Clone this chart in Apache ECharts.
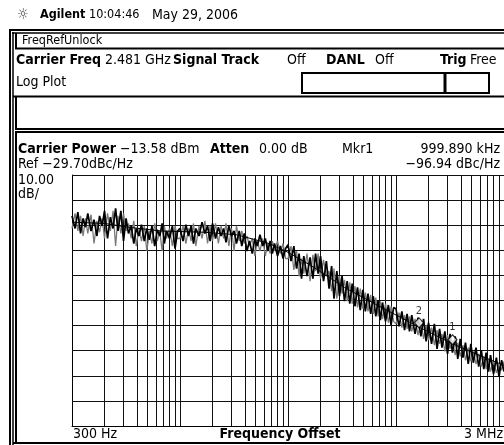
<!DOCTYPE html>
<html>
<head>
<meta charset="utf-8">
<script src="https://cdn.jsdelivr.net/npm/echarts@6/dist/echarts.min.js"></script>
<style>
  html, body { margin: 0; padding: 0; background: #fff; }
  #chart { width: 504px; height: 445px; }
</style>
</head>
<body>
<div id="chart"></div>
<script>
// Sweep settings
const startFreq = 300;        // Hz
const stopFreq = 3000000;     // Hz
const refLevel = -29.7;       // dBc/Hz at top graticule
const dbPerDiv = 10;
const divisions = 10;

// Offset frequencies of the measured trace points (Hz)
const traceFreqs = [
  300,320,340,360,380,400,420,450,480,510,540,570,600,640,680,720,760,800,850,900,950,
  1000,1060,1120,1180,1250,1320,1400,1480,1560,1650,1750,1850,1950,2050,2150,2250,2400,2550,2700,2850,
  3000,3200,3400,3600,3800,4000,4200,4500,4800,5100,5400,5700,6000,6400,6800,7200,7600,8000,8500,9000,9500,
  10000,10600,11200,11800,12500,13200,14000,14800,15600,16500,17500,18500,19500,20500,21500,22500,24000,25500,27000,28500,
  30000,32000,34000,36000,38000,40000,42000,45000,48000,51000,54000,57000,60000,64000,68000,72000,76000,80000,85000,90000,95000,
  100000,106000,112000,118000,125000,132000,140000,148000,156000,165000,175000,185000,195000,205000,215000,225000,240000,255000,270000,285000,
  300000,320000,340000,360000,380000,400000,420000,450000,480000,510000,540000,570000,600000,640000,680000,720000,760000,800000,850000,900000,950000,
  1000000,1060000,1120000,1180000,1250000,1320000,1400000,1480000,1560000,1650000,1750000,1850000,1950000,2050000,2150000,2250000,2400000,2550000,2700000,2850000,
  3000000
];

// Phase noise, trace 1 (dBc/Hz)
const traceMain = [
  -46,-51,-44.5,-53,-47,-50.5,-45,-52,-47.5,-54,-46,-50,-44,-55,-46.5,-51,-43,-52,-44,-56,-47,
  -53,-50,-57,-51,-54,-49.5,-56,-51,-55.5,-50,-58,-51.5,-54,-49,-57,-52,-55,-50,-59,-52,
  -51,-56,-49.5,-54,-50,-57,-51,-54,-48.5,-53,-50,-56,-49,-55,-50.5,-54,-51,-56.5,-50,-54,-52,
  -57,-52,-58,-53,-60,-56,-61,-55,-58,-53.5,-58,-55,-60,-56,-61,-57,-62,-58,-63,-59,
  -57.5,-64,-58,-67,-61,-71,-62,-70,-62.5,-71,-61,-69,-62,-72,-64,-75,-66,-79,-68,-78,-70,
  -80,-72,-81,-73,-82,-74.5,-83.5,-75.5,-84,-77,-85,-78,-86,-79.5,-87.5,-80.5,-88,-81.5,-89.5,-82.5,
  -83,-90,-84,-91.5,-85,-92,-85.5,-93,-86.5,-94,-87,-96,-88.5,-97,-89,-99,-91,-98.5,-92,-101,-93,
  -100.5,-94,-103,-95,-102.5,-96.5,-105,-97,-104.5,-98.5,-106,-99.5,-107,-100.5,-108,-101.5,-109,-102.5,-110,-103.5,
  -108
];

// Phase noise, trace 2 (dBc/Hz)
const traceAlt = [
  -51,-45,-52,-46,-54,-47,-53,-45.5,-57,-48,-52.5,-47,-55,-45,-52,-44,-58,-46,-53,-45,-52,
  -49,-55,-48,-58,-51,-56,-50,-60,-52,-57,-49,-56,-52,-60,-50,-55,-51,-58,-50,-55,
  -55,-50,-57,-51,-56,-49,-58,-50,-55,-48,-57,-50,-56,-49,-57,-50,-55,-49,-58,-51,-60,
  -50,-56,-52,-57,-54,-58,-55,-62,-56,-60,-55,-62,-57,-61,-56,-60,-56,-61,-57,-63,
  -63,-58,-67.5,-60,-70,-63,-69,-61,-72,-61.5,-68,-61,-71,-63.5,-70,-68,-76,-67,-79,-70,-77,
  -71.5,-80,-72.5,-81,-74,-82.5,-75,-83,-76.5,-84,-77.5,-85,-78.5,-86,-80,-87,-81,-88.5,-82,-88,
  -89,-84.5,-90.5,-85.5,-91,-86,-92,-87,-93.5,-88,-95,-89.5,-95.5,-90.5,-97.5,-91.5,-97,-93,-100,-93.5,-99,
  -95.5,-101.5,-96.5,-102,-97.5,-103.5,-98.5,-104,-100,-105,-101,-106,-102,-107,-103,-108,-104,-108.5,-105,-107.5,
  -104
];

// Smoothed trace
const avgFreqs = [300, 600, 1000, 2000, 5000, 10000, 15000, 20000, 30000, 50000, 100000, 200000, 500000, 1000000, 2000000, 3000000];
const avgLevels = [-48.5, -49, -50.5, -52, -52.5, -53.5, -55.5, -57, -60.5, -66, -74.5, -81.5, -90.5, -96.94, -102.5, -105.5];

// Markers
const markerNames = ['1', '2'];
const markerFreqs = [999890, 490000];
const markerLevels = [-96.94, -90.2];

// Graticule: vertical lines at multiples of the start frequency in each decade
const gridFreqs = [
  600, 900, 1200, 1500, 1800, 2100, 2400, 2700, 3000,
  6000, 9000, 12000, 15000, 18000, 21000, 24000, 27000, 30000,
  60000, 90000, 120000, 150000, 180000, 210000, 240000, 270000, 300000,
  600000, 900000, 1200000, 1500000, 1800000, 2100000, 2400000, 2700000
];
const gridLevels = [-29.7, -39.7, -49.7, -59.7, -69.7, -79.7, -89.7, -99.7, -109.7, -119.7];

const FONT = '"DejaVu Sans Condensed","DejaVu Sans",sans-serif';

function txt(s, x, y, o) {
  o = o || {};
  const size = o.size || 14;
  return {
    type: 'text', x: x, y: y, silent: true, z: 50,
    style: {
      text: s,
      font: (o.bold ? 'bold ' : '') + size + 'px ' + FONT,
      fill: o.color || '#000',
      align: o.align || 'left', textAlign: o.align || 'left',
      verticalAlign: 'middle', textVerticalAlign: 'middle'
    }
  };
}
function ln(x1, y1, x2, y2, w, c) {
  return { type: 'line', silent: true, z: 40, shape: { x1, y1, x2, y2 },
           style: { stroke: c || '#000', lineWidth: w || 1 } };
}
function box(x, y, w, h, lw) {
  return { type: 'rect', silent: true, z: 40, shape: { x, y, width: w, height: h },
           style: { fill: 'none', stroke: '#000', lineWidth: lw || 2 } };
}

const pairs = (xs, ys) => xs.map((x, i) => [x, ys[i]]);

const graphics = [
  // header
  txt('☼', 17, 15, { size: 15, color: '#444' }),
  txt('Agilent', 40, 15, { bold: true, size: 12.5 }),
  txt('10:04:46', 89, 15, { size: 12.5 }),
  txt('May 29, 2006', 152, 15, { size: 14 }),
  // outer frame
  ln(9, 30, 504, 30, 2),
  ln(12, 33, 504, 33, 1.5),
  ln(10, 29, 10, 445, 2),
  ln(13, 32, 13, 445, 1.5),
  // status line
  ln(16, 33, 16, 49, 2),
  ln(15, 48.5, 504, 48.5, 2),
  txt('FreqRefUnlock', 22, 41, { size: 12.5 }),
  // measurement settings row
  txt('Carrier Freq', 16, 60, { bold: true }),
  txt('2.481 GHz', 105, 60),
  txt('Signal Track', 173, 60, { bold: true }),
  txt('Off', 287, 60),
  txt('DANL', 326, 60, { bold: true }),
  txt('Off', 375, 60),
  txt('Trig', 440, 60, { bold: true }),
  txt('Free', 470, 60),
  txt('Log Plot', 16, 82),
  box(302, 73, 187, 20, 2),
  ln(445, 73, 445, 93, 3),
  ln(13, 96.5, 504, 96.5, 2),
  // empty message box
  ln(16, 96, 16, 129, 2),
  ln(15, 129, 504, 129, 2),
  // plot panel
  ln(15, 132, 504, 132, 2),
  ln(16, 132, 16, 443, 2),
  ln(13, 443, 504, 443, 2),
  txt('Carrier Power', 18, 149, { bold: true }),
  txt('−13.58 dBm', 120, 149),
  txt('Atten', 210, 149, { bold: true }),
  txt('0.00 dB', 259, 149),
  txt('Mkr1', 342, 149),
  txt('999.890 kHz', 500, 149, { align: 'right' }),
  txt('Ref −29.70dBc/Hz', 18, 164),
  txt('−96.94 dBc/Hz', 500, 164, { align: 'right' }),
  txt('10.00', 18, 180),
  txt('dB/', 18, 194),
  txt('300 Hz', 73, 434),
  txt('Frequency Offset', 280, 434, { bold: true, align: 'center' }),
  txt('3 MHz', 503, 434, { align: 'right' })
];

const chart = echarts.init(document.getElementById('chart'), null, { renderer: 'canvas' });
chart.setOption({
  animation: false,
  backgroundColor: '#fff',
  grid: { left: 72, top: 175, width: 433, height: 251, show: false },
  xAxis: {
    type: 'log', logBase: 10, min: startFreq, max: stopFreq,
    axisLine: { show: true, onZero: false, lineStyle: { color: '#000', width: 1 } },
    axisTick: { show: false }, axisLabel: { show: false }, splitLine: { show: false }
  },
  yAxis: {
    type: 'value', min: refLevel - dbPerDiv * divisions, max: refLevel,
    axisLine: { show: true, lineStyle: { color: '#000', width: 1 } },
    axisTick: { show: false }, axisLabel: { show: false }, splitLine: { show: false }
  },
  series: [
    {
      type: 'line', name: 'trace2', z: 2,
      data: pairs(traceFreqs, traceAlt),
      showSymbol: false, symbol: 'none',
      lineStyle: { color: '#7a7a7a', width: 1.3 },
      markLine: {
        silent: true, z: 1, symbol: ['none', 'none'], animation: false,
        label: { show: false },
        lineStyle: { color: '#111', width: 1, type: 'solid' },
        emphasis: { disabled: true },
        data: gridFreqs.map(f => ({ xAxis: f })).concat(gridLevels.map(v => ({ yAxis: v })))
      }
    },
    {
      type: 'line', name: 'trace1', z: 3,
      data: pairs(traceFreqs, traceMain),
      showSymbol: false, symbol: 'none',
      lineStyle: { color: '#000', width: 1.7 }
    },
    {
      type: 'line', name: 'average', z: 4,
      data: pairs(avgFreqs, avgLevels),
      showSymbol: false, symbol: 'none',
      lineStyle: { color: '#000', width: 1 }
    },
    {
      type: 'scatter', name: 'markers', z: 5,
      data: markerFreqs.map((f, i) => ({ name: markerNames[i], value: [f, markerLevels[i]] })),
      symbol: 'diamond', symbolSize: [9, 10], symbolOffset: [0, -4],
      itemStyle: { color: '#fff', borderColor: '#000', borderWidth: 1.2 },
      label: { show: true, position: 'top', distance: 1, formatter: '{b}',
               fontSize: 11, fontFamily: FONT, color: '#000' }
    }
  ],
  graphic: graphics
});
</script>
</body>
</html>
